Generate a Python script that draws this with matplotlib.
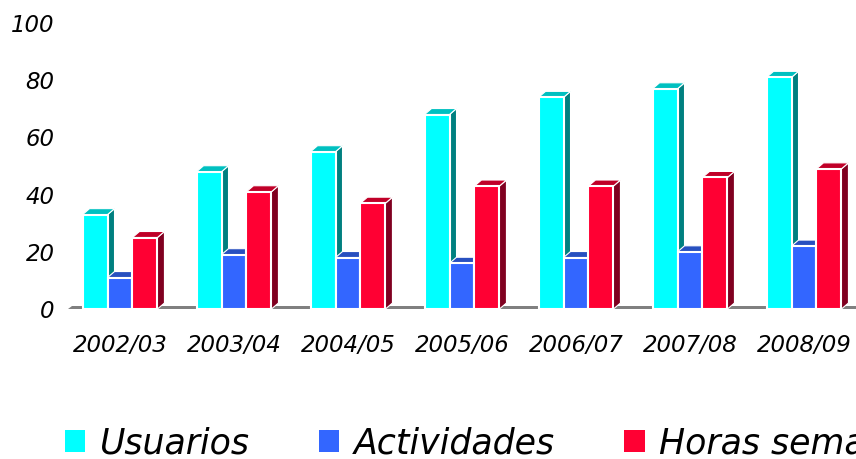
import numpy as np
import matplotlib
matplotlib.use('Agg')
import matplotlib.pyplot as plt
from matplotlib.patches import Polygon, Patch

# data
years = ['2002/03', '2003/04', '2004/05', '2005/06', '2006/07', '2007/08', '2008/09']
usuarios = [33, 48, 55, 68, 74, 77, 81]
actividades = [11, 19, 18, 16, 18, 20, 22]
horas = [25, 41, 37, 43, 43, 46, 49]
series_names = ['Usuarios', 'Actividades', 'Horas semanales']
yticks = [0, 20, 40, 60, 80, 100]

# colours: front, top, side
colors = [('#00FFFF', '#00C0C0', '#008080'),
          ('#3366FF', '#2850C0', '#1A3380'),
          ('#FF0033', '#C00028', '#800020')]

W, H = 856, 459
fig = plt.figure(figsize=(W / 100, H / 100), dpi=100)
ax = fig.add_axes([63 / W, 150 / H, 798 / W, 286 / H])
ax.set_xlim(-0.5, len(years) - 0.5)
ax.set_ylim(0, 100)

# pixel -> data conversion for the 3D offsets
bb = ax.get_window_extent()
px_x = (ax.get_xlim()[1] - ax.get_xlim()[0]) / bb.width
px_y = (ax.get_ylim()[1] - ax.get_ylim()[0]) / bb.height
dx, dy = 7 * px_x, 6 * px_y

# grey floor strip
x0, x1 = ax.get_xlim()
fx, fy = 4 * px_x, 3 * px_y
ax.add_patch(Polygon([(x0 + 5 * px_x, 0), (x1, 0), (x1 + fx, fy), (x0 + 5 * px_x + fx, fy)],
                     closed=True, facecolor='#808080', edgecolor='none', zorder=1, clip_on=False))

width = 0.219
offsets = [-width, 0, width]
data = [usuarios, actividades, horas]
z = 2
for i in range(len(years)):
    for k in range(3):
        h = data[k][i]
        left = i + offsets[k] - width / 2
        right = left + width
        front, top, side = colors[k]
        ax.add_patch(Polygon([(right, 0), (right + dx, dy), (right + dx, h + dy), (right, h)],
                             closed=True, facecolor=side, edgecolor='white', linewidth=0.8,
                             zorder=z, clip_on=False))
        ax.add_patch(Polygon([(left, h), (right, h), (right + dx, h + dy), (left + dx, h + dy)],
                             closed=True, facecolor=top, edgecolor='white', linewidth=0.8,
                             zorder=z, clip_on=False))
        ax.bar(i + offsets[k], h, width=width, color=front, edgecolor='white',
               linewidth=1.5, zorder=z + 0.5, clip_on=False)
        z += 1

for s in ax.spines.values():
    s.set_visible(False)
ax.set_yticks(yticks)
ax.set_yticklabels([str(t) for t in yticks], fontsize=16.5, style='italic')
ax.set_xticks(range(len(years)))
ax.set_xticklabels(years, fontsize=16.5, style='italic')
ax.tick_params(axis='y', length=0, pad=6)
ax.tick_params(axis='x', length=0, pad=18)

handles = [Patch(facecolor=c[0], edgecolor='none') for c in colors]
fig.legend(handles, series_names, loc='center left', bbox_to_anchor=(65 / W, 1 - 443 / H),
           ncol=3, frameon=False, prop={'size': 25, 'style': 'italic'},
           handlelength=0.58, handleheight=0.58, handletextpad=0.42, columnspacing=2.0,
           borderpad=0, borderaxespad=0)

fig.savefig('out.png', dpi=100)
